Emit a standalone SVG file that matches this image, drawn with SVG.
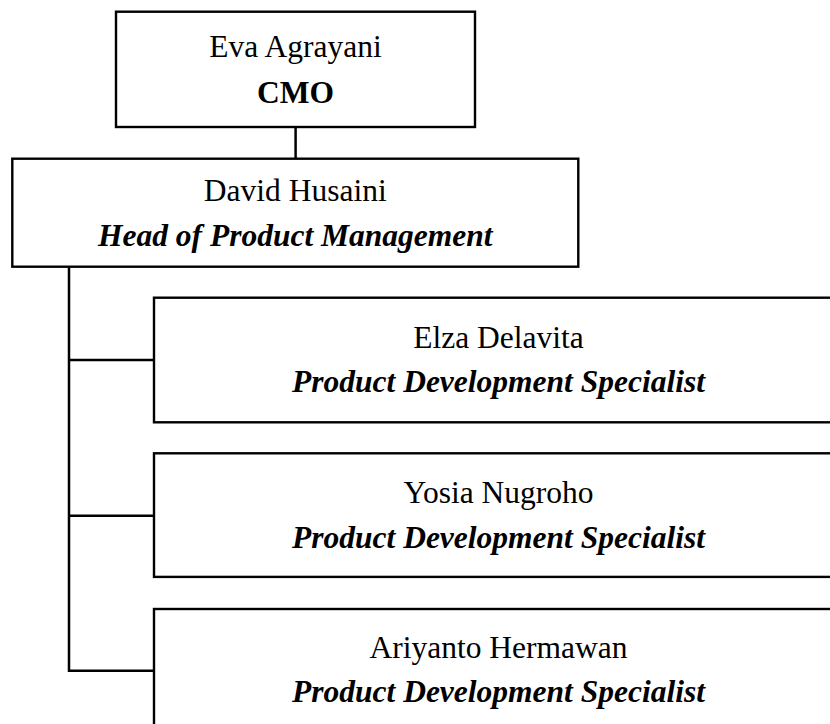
<svg xmlns="http://www.w3.org/2000/svg" width="830" height="724" viewBox="0 0 830 724">
  <style>
    .box { fill: #ffffff; stroke: #000000; stroke-width: 2.4; }
    .link { fill: none; stroke: #000000; stroke-width: 2.5; }
    text { font-family: "Liberation Serif", "Times New Roman", serif; font-size: 31.5px; fill: #000000; text-anchor: middle; }
    .name { font-weight: normal; }
    .role { font-weight: bold; }
    .role-it { font-weight: bold; font-style: italic; }
  </style>
  <rect x="0" y="0" width="830" height="724" fill="#ffffff"/>

  <!-- reporting lines -->
  <g id="connectors">
    <line class="link" x1="295.6" y1="127" x2="295.6" y2="158.7"/>
    <polyline class="link" points="69,266.7 69,670.7 154,670.7"/>
    <line class="link" x1="69" y1="360" x2="154" y2="360"/>
    <line class="link" x1="69" y1="515.7" x2="154" y2="515.7"/>
  </g>

  <g id="node-cmo">
    <rect class="box" x="116" y="11.7" width="359" height="115.3"/>
    <text class="name" x="295.5" y="57.3">Eva Agrayani</text>
    <text class="role" x="295.5" y="103">CMO</text>
  </g>

  <g id="node-head-product">
    <rect class="box" x="12.3" y="158.7" width="566" height="108"/>
    <text class="name" x="295.3" y="201">David Husaini</text>
    <text class="role-it" x="295.3" y="246">Head of Product Management</text>
  </g>

  <g id="node-elza">
    <rect class="box" x="154" y="297.7" width="690" height="124.6"/>
    <text class="name" x="498.5" y="347.5">Elza Delavita</text>
    <text class="role-it" x="498.5" y="392.3">Product Development Specialist</text>
  </g>

  <g id="node-yosia">
    <rect class="box" x="154" y="453.3" width="690" height="123.6"/>
    <text class="name" x="498.5" y="503">Yosia Nugroho</text>
    <text class="role-it" x="498.5" y="547.8">Product Development Specialist</text>
  </g>

  <g id="node-ariyanto">
    <rect class="box" x="154" y="609" width="690" height="124"/>
    <text class="name" x="498.5" y="657.8">Ariyanto Hermawan</text>
    <text class="role-it" x="498.5" y="702.4">Product Development Specialist</text>
  </g>
</svg>
